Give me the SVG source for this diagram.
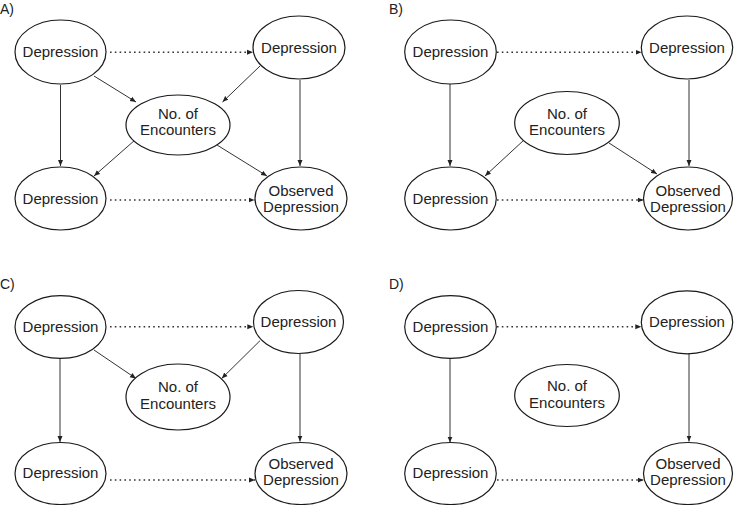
<svg xmlns="http://www.w3.org/2000/svg" width="734" height="505" viewBox="0 0 734 505">
<style>
.n ellipse{fill:#fff;stroke:#1a1a1a;stroke-width:1.2}
text{font-family:"Liberation Sans",Arial,sans-serif;font-size:15px;fill:#222;text-anchor:middle}
.lbl{font-size:14px;text-anchor:start}
.e{fill:none;stroke:#333;stroke-width:1;marker-end:url(#ah)}
.d{stroke-dasharray:1.6 3.2;stroke-width:1.5}
</style>
<defs>
<marker id="ah" markerUnits="userSpaceOnUse" markerWidth="7" markerHeight="6" refX="6" refY="3" orient="auto">
<path d="M0,0.5 L6,3 L0,5.5 z" fill="#222"/>
</marker>
</defs>
<rect width="734" height="505" fill="#fff"/>
<text class="lbl" x="0" y="14">A)</text>
<text class="lbl" x="389" y="14">B)</text>
<text class="lbl" x="0" y="289">C)</text>
<text class="lbl" x="389" y="289">D)</text>
<g id="edges">
<!-- A -->
<path class="e d" d="M110,52.3 L253,52.3"/>
<path class="e d" d="M110,200 L254.5,200"/>
<path class="e" d="M94,76 L136,102"/>
<path class="e" d="M260,66 L222.5,102"/>
<path class="e" d="M60.5,85 L60.5,166"/>
<path class="e" d="M300,80 L300,166"/>
<path class="e" d="M135,140 L94,176"/>
<path class="e" d="M217,145 L267,176"/>
<!-- B -->
<path class="e d" d="M497,52.3 L641.5,52.3"/>
<path class="e d" d="M497,200 L643.5,200"/>
<path class="e" d="M450,84 L450,166"/>
<path class="e" d="M689,80 L689,166"/>
<path class="e" d="M524,140 L485,176"/>
<path class="e" d="M609,143 L657,174"/>
<!-- C -->
<path class="e d" d="M110,326.7 L253.3,326.7"/>
<path class="e d" d="M110,480 L255,480"/>
<path class="e" d="M94,350 L136,378.5"/>
<path class="e" d="M260,340.7 L221.7,378.5"/>
<path class="e" d="M60,359 L60,442"/>
<path class="e" d="M300,354 L300,441.5"/>
<!-- D -->
<path class="e d" d="M497,326.7 L641.3,326.7"/>
<path class="e d" d="M497,480 L643.7,480"/>
<path class="e" d="M450,358.5 L450,442.5"/>
<path class="e" d="M689,354 L689,441.5"/>
</g>
<!-- Panel A -->
<g id="A_tl" class="n"><ellipse cx="60.5" cy="52" rx="45.5" ry="32"/><text x="60.5" y="57">Depression</text></g>
<g id="A_tr" class="n"><ellipse cx="299" cy="47.5" rx="46" ry="31.5"/><text x="299" y="52.5">Depression</text></g>
<g id="A_mid" class="n"><ellipse cx="178" cy="125" rx="52" ry="30"/><text x="178" y="118.5">No. of</text><text x="178" y="134.5">Encounters</text></g>
<g id="A_bl" class="n"><ellipse cx="60.5" cy="198.5" rx="45.5" ry="31.5"/><text x="60.5" y="204">Depression</text></g>
<g id="A_br" class="n"><ellipse cx="301" cy="198.5" rx="46" ry="31.5"/><text x="301" y="195.5">Observed</text><text x="301" y="211.5">Depression</text></g>
<!-- Panel B -->
<g id="B_tl" class="n"><ellipse cx="450.5" cy="52" rx="45.8" ry="32"/><text x="450.5" y="57">Depression</text></g>
<g id="B_tr" class="n"><ellipse cx="687" cy="47.5" rx="45.7" ry="31.5"/><text x="687" y="52.5">Depression</text></g>
<g id="B_mid" class="n"><ellipse cx="567" cy="123" rx="52.3" ry="31.5"/><text x="567" y="118.5">No. of</text><text x="567" y="134.5">Encounters</text></g>
<g id="B_bl" class="n"><ellipse cx="450.5" cy="198.5" rx="45.8" ry="31.5"/><text x="450.5" y="204">Depression</text></g>
<g id="B_br" class="n"><ellipse cx="688" cy="198.5" rx="44.5" ry="31.5"/><text x="688" y="195.5">Observed</text><text x="688" y="211.5">Depression</text></g>
<!-- Panel C -->
<g id="C_tl" class="n"><ellipse cx="60.5" cy="327" rx="45.5" ry="31.3"/><text x="60.5" y="332">Depression</text></g>
<g id="C_tr" class="n"><ellipse cx="298.5" cy="322" rx="45" ry="31.5"/><text x="298.5" y="327">Depression</text></g>
<g id="C_mid" class="n"><ellipse cx="178" cy="397" rx="52" ry="33"/><text x="178" y="392">No. of</text><text x="178" y="408.5">Encounters</text></g>
<g id="C_bl" class="n"><ellipse cx="60.5" cy="473.5" rx="45.5" ry="31"/><text x="60.5" y="478">Depression</text></g>
<g id="C_br" class="n"><ellipse cx="301" cy="473.5" rx="46" ry="31"/><text x="301" y="469">Observed</text><text x="301" y="485">Depression</text></g>
<!-- Panel D -->
<g id="D_tl" class="n"><ellipse cx="450.5" cy="327" rx="45.8" ry="31.3"/><text x="450.5" y="332">Depression</text></g>
<g id="D_tr" class="n"><ellipse cx="687" cy="322.3" rx="45.7" ry="31.5"/><text x="687" y="327">Depression</text></g>
<g id="D_mid" class="n"><ellipse cx="567" cy="395.5" rx="52.3" ry="31"/><text x="567" y="391">No. of</text><text x="567" y="407.5">Encounters</text></g>
<g id="D_bl" class="n"><ellipse cx="450.5" cy="473.5" rx="45.8" ry="31"/><text x="450.5" y="478">Depression</text></g>
<g id="D_br" class="n"><ellipse cx="688" cy="473.5" rx="44.5" ry="31"/><text x="688" y="469">Observed</text><text x="688" y="485">Depression</text></g>
</svg>
